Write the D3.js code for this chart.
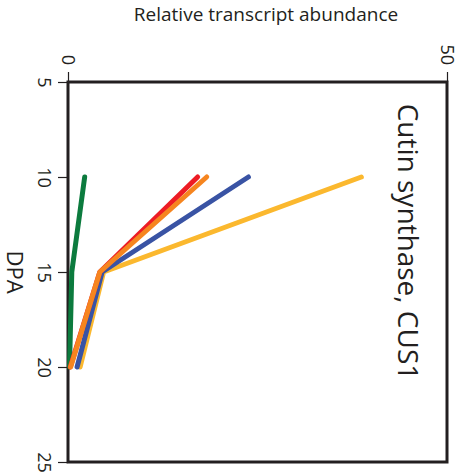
<!DOCTYPE html>
<html>
<head>
<meta charset="utf-8">
<script src="https://cdn.jsdelivr.net/npm/d3@7"></script>
<style>
  html, body { margin: 0; padding: 0; background: #fff; }
  svg { display: block; font-family: "Open Sans", "Noto Sans", sans-serif; }
</style>
</head>
<body>
<svg id="chart" width="469" height="476"></svg>
<script>
// Days post anthesis sampled
const dpa = [10, 15, 20];

// Relative transcript abundance per series (drawing order: back to front)
const seriesNames = ["green", "yellow", "blue", "red", "orange"];
const greenValues  = [2.2, 0.5, 0.2];
const yellowValues = [38.7, 4.7, 1.6];
const blueValues   = [23.8, 4.5, 1.2];
const redValues    = [17.1, 4.2, 0.3];
const orangeValues = [18.3, 4.2, 0.35];
const seriesColors = ["#0c7b3e", "#fbb82e", "#3953a4", "#ed1c24", "#f6851f"];

const abundanceTicks = [0, 50];
const dpaTicks = [5, 10, 15, 20, 25];

const svg = d3.select("#chart");
const ink = "#231f20";

// Abundance runs left-to-right, DPA runs top-to-bottom
const x = d3.scaleLinear().domain([0, 50]).range([68, 447]);
const y = d3.scaleLinear().domain([5, 25]).range([82, 462]);

// Top axis (abundance)
const topAxis = svg.append("g")
  .attr("transform", `translate(0,${y(5)})`)
  .call(d3.axisTop(x).tickValues(abundanceTicks).tickSize(10).tickFormat(d3.format("d")));
topAxis.select(".domain").remove();
topAxis.selectAll(".tick line").attr("stroke", ink).attr("stroke-width", 1.2);
topAxis.selectAll(".tick text")
  .attr("x", null).attr("y", null).attr("dy", null)
  .attr("transform", "translate(0,-17) rotate(90)")
  .attr("text-anchor", "end")
  .attr("dominant-baseline", "central")
  .attr("font-size", 18)
  .attr("font-family", "Open Sans")
  .attr("fill", ink);

// Left axis (DPA)
const leftAxis = svg.append("g")
  .attr("transform", `translate(${x(0)},0)`)
  .call(d3.axisLeft(y).tickValues(dpaTicks).tickSize(10).tickFormat(d3.format("d")));
leftAxis.select(".domain").remove();
leftAxis.selectAll(".tick line").attr("stroke", ink).attr("stroke-width", 1.2);
leftAxis.selectAll(".tick text")
  .attr("x", null).attr("y", null).attr("dy", null)
  .attr("transform", "translate(-23,0) rotate(90)")
  .attr("text-anchor", "middle")
  .attr("dominant-baseline", "central")
  .attr("font-size", 18)
  .attr("font-family", "Open Sans")
  .attr("fill", ink);

// Plot frame
svg.append("rect")
  .attr("x", x(0)).attr("y", y(5))
  .attr("width", x(50) - x(0)).attr("height", y(25) - y(5))
  .attr("fill", "none").attr("stroke", ink).attr("stroke-width", 3);

// Series lines
const allValues = [greenValues, yellowValues, blueValues, redValues, orangeValues];
const line = d3.line().x(d => x(d.v)).y(d => y(d.t));
allValues.forEach((vals, i) => {
  svg.append("path")
    .datum(vals.map((v, j) => ({ v, t: dpa[j] })))
    .attr("class", "series " + seriesNames[i])
    .attr("d", line)
    .attr("fill", "none")
    .attr("stroke", seriesColors[i])
    .attr("stroke-width", 5)
    .attr("stroke-linecap", "round")
    .attr("stroke-linejoin", "round");
});

// Axis titles
svg.append("text")
  .attr("x", 266).attr("y", 21)
  .attr("text-anchor", "middle")
  .attr("font-size", 19)
  .attr("fill", ink)
  .text("Relative transcript abundance");

svg.append("text")
  .attr("transform", `translate(6.5,${y(15)}) rotate(90)`)
  .attr("text-anchor", "middle")
  .attr("font-size", 22)
  .attr("fill", ink)
  .text("DPA");

// Chart title
svg.append("text")
  .attr("transform", "translate(398,242) rotate(90)")
  .attr("text-anchor", "middle")
  .attr("font-size", 28)
  .attr("fill", ink)
  .text("Cutin synthase, CUS1");
</script>
</body>
</html>
